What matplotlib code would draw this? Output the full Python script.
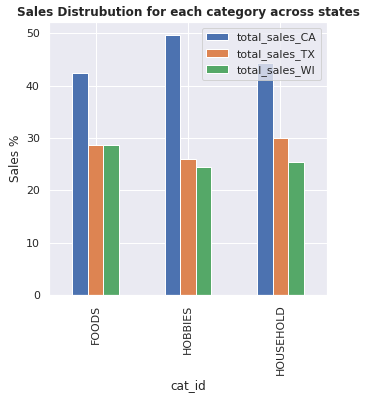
import matplotlib

matplotlib.use("Agg")
import matplotlib.pyplot as plt
import pandas as pd
import seaborn as sns

sns.set_theme()

categories = ["FOODS", "HOBBIES", "HOUSEHOLD"]
sales_ca = [42.45, 49.6, 44.4]
sales_tx = [28.6, 25.95, 30.0]
sales_wi = [28.6, 24.4, 25.4]

df = pd.DataFrame(
    {
        "total_sales_CA": sales_ca,
        "total_sales_TX": sales_tx,
        "total_sales_WI": sales_wi,
    },
    index=pd.Index(categories, name="cat_id"),
)

fig = plt.figure(figsize=(365 / 72, 399 / 72), dpi=72)
ax = fig.add_axes([0.135, 0.2607, 0.76, 0.683])
df.plot(kind="bar", ax=ax)
ax.set_ylabel("Sales %")
ax.set_title("Sales Distrubution for each category across states", fontweight="bold")
ax.legend(loc="upper right")

fig.savefig("out.png", dpi=72)
